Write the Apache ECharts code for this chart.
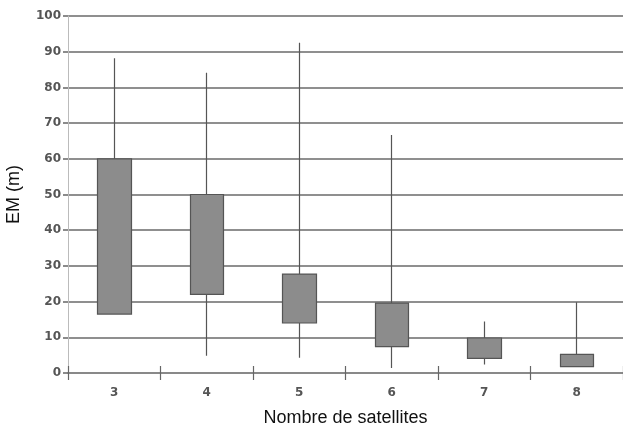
<!DOCTYPE html>
<html>
<head>
<meta charset="utf-8">
<script src="https://cdn.jsdelivr.net/npm/echarts@6/dist/echarts.min.js"></script>
<style>html,body{margin:0;padding:0;background:#fff}#c{width:623px;height:432px}</style>
</head>
<body>
<div id="c"></div>
<script>
const categories = ['3', '4', '5', '6', '7', '8'];
const boxLow  = [16.5, 22, 14, 7.4, 4.1, 1.8];
const boxHigh = [60, 50, 27.7, 19.6, 9.8, 5.2];
const whiskerLow  = [16.5, 4.8, 4.3, 1.4, 2.4, 1.8];
const whiskerHigh = [88.2, 84.1, 92.5, 66.7, 14.4, 19.8];
const yTicks = [0, 10, 20, 30, 40, 50, 60, 70, 80, 90, 100];

const data = categories.map((c, i) => [boxLow[i], boxHigh[i], whiskerLow[i], whiskerHigh[i]]);

const labelFont = {fontFamily: 'DejaVu Sans', fontSize: 12, color: '#555', fontWeight: 'bold'};

const chart = echarts.init(document.getElementById('c'), null, {renderer: 'canvas'});
chart.setOption({
  animation: false,
  backgroundColor: '#fff',
  grid: {left: 68, right: 0, top: 16, bottom: 59, containLabel: false, outerBoundsMode: 'none'},
  xAxis: [{
    type: 'category',
    data: categories,
    name: 'Nombre de satellites',
    nameLocation: 'middle',
    nameGap: 36,
    nameTextStyle: {fontFamily: 'Liberation Sans', fontSize: 18, color: '#111'},
    axisLine: {lineStyle: {color: '#888', width: 1.5}},
    axisTick: {show: true, length: 7, lineStyle: {color: '#666', width: 1.2}},
    axisLabel: Object.assign({margin: 14}, labelFont),
    splitLine: {show: false}
  }, {
    type: 'category',
    data: categories,
    position: 'bottom',
    axisLine: {show: false},
    axisTick: {show: true, inside: true, length: 7, lineStyle: {color: '#666', width: 1.2}},
    axisLabel: {show: false},
    splitLine: {show: false}
  }],
  yAxis: {
    type: 'value',
    min: 0, max: 100, interval: 10,
    name: 'EM (m)',
    nameLocation: 'middle',
    nameGap: 45,
    nameRotate: 90,
    nameTextStyle: {fontFamily: 'Liberation Sans', fontSize: 18, color: '#111'},
    axisLine: {show: true, lineStyle: {color: '#bbb', width: 1}},
    axisTick: {show: true, length: 5, lineStyle: {color: '#666', width: 1.5}},
    axisLabel: Object.assign({margin: 7,
      formatter: v => yTicks.includes(v) ? String(v) : ''}, labelFont),
    splitLine: {show: true, lineStyle: {color: '#6a6a6a', width: 1.5}}
  },
  series: [{
    type: 'candlestick',
    data: data,
    barWidth: 34,
    itemStyle: {
      color: '#8c8c8c', color0: '#8c8c8c',
      borderColor: '#555', borderColor0: '#555',
      borderWidth: 1.2
    }
  }]
});
</script>
</body>
</html>
